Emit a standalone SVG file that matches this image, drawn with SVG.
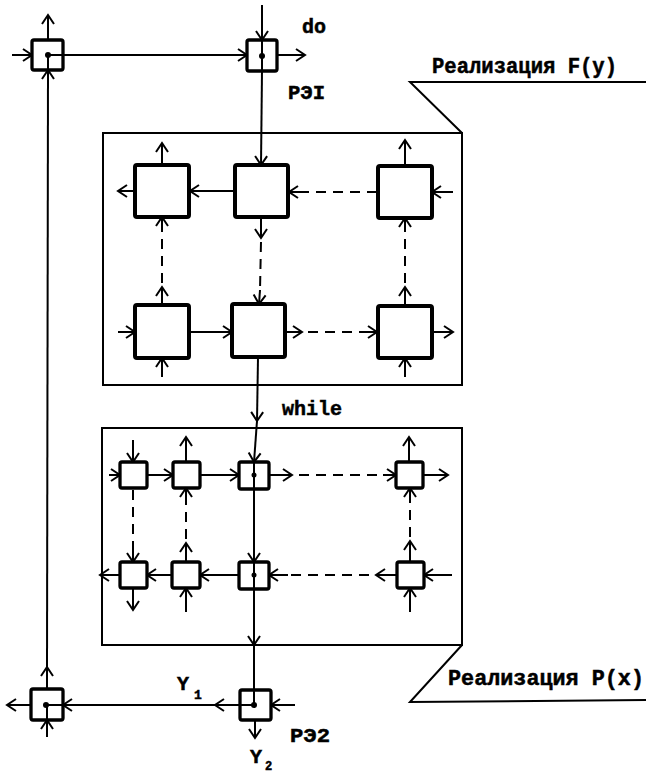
<svg xmlns="http://www.w3.org/2000/svg" width="646" height="775" viewBox="0 0 646 775">
<style>
  .frame{fill:none;stroke:#000;stroke-width:2}
  .big{fill:#fff;stroke:#000;stroke-width:4;stroke-linejoin:round}
  .sm{fill:#fff;stroke:#000;stroke-width:3.3;stroke-linejoin:round}
  .c{fill:none;stroke:#000;stroke-width:2;marker-end:url(#ah)}
  .p{fill:none;stroke:#000;stroke-width:2}
  .d{fill:none;stroke:#000;stroke-width:2;stroke-dasharray:10 7}
  .dot{fill:#000}
  .t{font-family:"Liberation Mono","DejaVu Sans Mono",monospace;font-weight:bold;font-size:20px;fill:#000;stroke:#000;stroke-width:0.5}
</style>
<defs>
  <marker id="ah" markerWidth="20" markerHeight="20" viewBox="-10 -10 20 20" refX="0" refY="0" orient="auto" markerUnits="userSpaceOnUse" overflow="visible">
    <path d="M-9,-6 L0,0 L-9,6" fill="none" stroke="#000" stroke-width="2"/>
  </marker>
</defs>
<rect width="646" height="775" fill="#fff"/>

<!-- frames -->
<g id="frameFy">
  <rect class="frame" x="103" y="133" width="359" height="252"/>
  <polyline class="p" points="462,133 410,82 646,82"/>
  <text class="t" x="432" y="73" textLength="185" lengthAdjust="spacingAndGlyphs" style="font-size:22px">Реализация F(y)</text>
</g>
<g id="framePx">
  <rect class="frame" x="102" y="428" width="360" height="217"/>
  <polyline class="p" points="462,645 410,702 646,700"/>
  <text class="t" x="448" y="685" textLength="196" lengthAdjust="spacingAndGlyphs" style="font-size:22px">Реализация P(x)</text>
</g>

<!-- connectors -->
<g id="connectors">
  <!-- top -->
  <line class="c" x1="12" y1="55" x2="32" y2="55"/>
  <line class="c" x1="48" y1="40" x2="48" y2="15"/>
  <line class="c" x1="63" y1="55" x2="247" y2="55"/>
  <line class="c" x1="262" y1="5" x2="262" y2="40"/>
  <line class="c" x1="277" y1="55" x2="305" y2="55"/>
  <line class="c" x1="262" y1="71" x2="261" y2="165"/>
  <!-- left vertical -->
  <line class="c" x1="47" y1="689" x2="47" y2="667"/>
  <line class="c" x1="47" y1="667" x2="48" y2="70"/>
  <!-- upper frame -->
  <line class="c" x1="162" y1="165" x2="162" y2="143"/>
  <line class="c" x1="135" y1="191" x2="118" y2="191"/>
  <line class="c" x1="235" y1="191" x2="190" y2="191"/>
  <line class="c" x1="261" y1="217" x2="261" y2="238"/>
  <line class="d" x1="261" y1="242" x2="260" y2="290"/>
  <line class="c" x1="260" y1="290" x2="259" y2="304"/>
  <line class="c" x1="162" y1="305" x2="162" y2="287"/>
  <line class="d" x1="162" y1="283" x2="162" y2="232"/>
  <line class="c" x1="162" y1="232" x2="162" y2="217"/>
  <line class="d" x1="377" y1="192" x2="303" y2="192"/>
  <line class="c" x1="303" y1="192" x2="289" y2="192"/>
  <line class="c" x1="405" y1="166" x2="405" y2="140"/>
  <line class="c" x1="453" y1="192" x2="432" y2="192"/>
  <line class="c" x1="405" y1="306" x2="405" y2="287"/>
  <line class="d" x1="405" y1="283" x2="405" y2="232"/>
  <line class="c" x1="405" y1="232" x2="405" y2="218"/>
  <line class="c" x1="118" y1="332" x2="135" y2="332"/>
  <line class="c" x1="162" y1="377" x2="162" y2="358"/>
  <line class="c" x1="189" y1="332" x2="232" y2="332"/>
  <line class="c" x1="285" y1="332" x2="302" y2="332"/>
  <line class="d" x1="308" y1="332" x2="362" y2="332"/>
  <line class="c" x1="362" y1="332" x2="377" y2="332"/>
  <line class="c" x1="432" y1="332" x2="453" y2="332"/>
  <line class="c" x1="405" y1="377" x2="405" y2="358"/>
  <!-- between frames -->
  <line class="c" x1="258" y1="357" x2="257" y2="421"/>
  <line class="c" x1="257" y1="421" x2="254" y2="462"/>
  <!-- lower frame row 1 -->
  <line class="c" x1="133" y1="440" x2="133" y2="462"/>
  <line class="c" x1="109" y1="475" x2="120" y2="475"/>
  <line class="c" x1="147" y1="475" x2="173" y2="475"/>
  <line class="c" x1="186" y1="462" x2="186" y2="437"/>
  <line class="c" x1="200" y1="475" x2="239" y2="475"/>
  <line class="c" x1="269" y1="475" x2="292" y2="475"/>
  <line class="d" x1="299" y1="475" x2="383" y2="475"/>
  <line class="c" x1="383" y1="475" x2="396" y2="475"/>
  <line class="c" x1="409" y1="462" x2="409" y2="437"/>
  <line class="c" x1="423" y1="475" x2="448" y2="475"/>
  <!-- lower frame verticals -->
  <line class="d" x1="133" y1="490" x2="133" y2="548"/>
  <line class="c" x1="133" y1="548" x2="133" y2="562"/>
  <line class="c" x1="186" y1="562" x2="186" y2="543"/>
  <line class="d" x1="186" y1="539" x2="186" y2="500"/>
  <line class="c" x1="186" y1="500" x2="186" y2="488"/>
  <line class="c" x1="410" y1="562" x2="410" y2="541"/>
  <line class="d" x1="410" y1="537" x2="410" y2="500"/>
  <line class="c" x1="410" y1="500" x2="410" y2="488"/>
  <line class="c" x1="254" y1="489" x2="254" y2="562"/>
  <!-- lower frame row 2 -->
  <line class="c" x1="120" y1="575" x2="100" y2="575"/>
  <line class="c" x1="133" y1="588" x2="133" y2="610"/>
  <line class="c" x1="172" y1="575" x2="147" y2="575"/>
  <line class="c" x1="186" y1="612" x2="186" y2="588"/>
  <line class="c" x1="239" y1="575" x2="200" y2="575"/>
  <line class="c" x1="397" y1="575" x2="376" y2="575"/>
  <line class="d" x1="369" y1="575" x2="288" y2="575"/>
  <line class="c" x1="288" y1="575" x2="269" y2="575"/>
  <line class="c" x1="452" y1="575" x2="424" y2="575"/>
  <line class="c" x1="410" y1="612" x2="410" y2="588"/>
  <line class="c" x1="254" y1="589" x2="254" y2="645"/>
  <line class="p" x1="254" y1="645" x2="254" y2="690"/>
  <!-- bottom -->
  <line class="c" x1="31" y1="705" x2="7" y2="705"/>
  <line class="c" x1="47" y1="737" x2="47" y2="720"/>
  <line class="c" x1="240" y1="705" x2="215" y2="705"/>
  <line class="c" x1="215" y1="705" x2="63" y2="705"/>
  <line class="c" x1="295" y1="705" x2="271" y2="705"/>
  <line class="c" x1="255" y1="720" x2="255" y2="738"/>
</g>

<!-- top nodes -->
<g id="n0"><rect class="sm" x="32" y="40" width="31" height="30" rx="2"/><path class="p" d="M48,70 V55 H63"/><circle class="dot" cx="48" cy="55" r="3"/></g>
<g id="rei1"><rect class="sm" x="247" y="40" width="30" height="31" rx="2"/><path class="p" d="M262,40 V71"/><circle class="dot" cx="262" cy="56" r="3"/></g>

<!-- upper frame nodes -->
<g id="uA"><rect class="big" x="135" y="165" width="54" height="52" rx="2"/></g>
<g id="uB"><rect class="big" x="235" y="165" width="53" height="52" rx="2"/></g>
<g id="uC"><rect class="big" x="378" y="166" width="54" height="52" rx="2"/></g>
<g id="uD"><rect class="big" x="135" y="305" width="54" height="53" rx="2"/></g>
<g id="uE"><rect class="big" x="232" y="304" width="53" height="53" rx="2"/></g>
<g id="uF"><rect class="big" x="378" y="306" width="54" height="52" rx="2"/></g>

<!-- lower frame nodes -->
<g id="lG"><rect class="sm" x="120" y="462" width="27" height="26" rx="2"/></g>
<g id="lH"><rect class="sm" x="173" y="462" width="27" height="26" rx="2"/></g>
<g id="lI"><rect class="sm" x="239" y="462" width="30" height="27" rx="2"/><path class="p" d="M254,462 V489"/><circle class="dot" cx="254" cy="475" r="2.5"/></g>
<g id="lJ"><rect class="sm" x="396" y="462" width="27" height="26" rx="2"/></g>
<g id="lK"><rect class="sm" x="120" y="562" width="27" height="26" rx="2"/></g>
<g id="lL"><rect class="sm" x="172" y="562" width="28" height="26" rx="2"/></g>
<g id="lM"><rect class="sm" x="239" y="562" width="30" height="27" rx="2"/><path class="p" d="M254,562 V589"/><circle class="dot" cx="254" cy="575" r="2.5"/></g>
<g id="lN"><rect class="sm" x="397" y="562" width="27" height="26" rx="2"/></g>

<!-- bottom nodes -->
<g id="nBL"><rect class="sm" x="31" y="689" width="32" height="31" rx="2"/><path class="p" d="M47,720 V705 H63"/><circle class="dot" cx="46" cy="705" r="3"/></g>
<g id="rei2"><rect class="sm" x="240" y="690" width="31" height="30" rx="2"/><path class="p" d="M254,690 V705 H240"/><circle class="dot" cx="254" cy="705" r="3"/></g>

<!-- labels -->
<text class="t" x="302" y="33">do</text>
<text class="t" x="288" y="99" textLength="37" lengthAdjust="spacingAndGlyphs">РЭI</text>
<text class="t" x="282" y="415">while</text>
<text class="t" x="177" y="690">Y</text><text class="t" x="194" y="699" style="font-size:13px">1</text>
<text class="t" x="250" y="763">Y</text><text class="t" x="265" y="770" style="font-size:12px">2</text>
<text class="t" x="290" y="742" textLength="40" lengthAdjust="spacingAndGlyphs">РЭ2</text>
</svg>
